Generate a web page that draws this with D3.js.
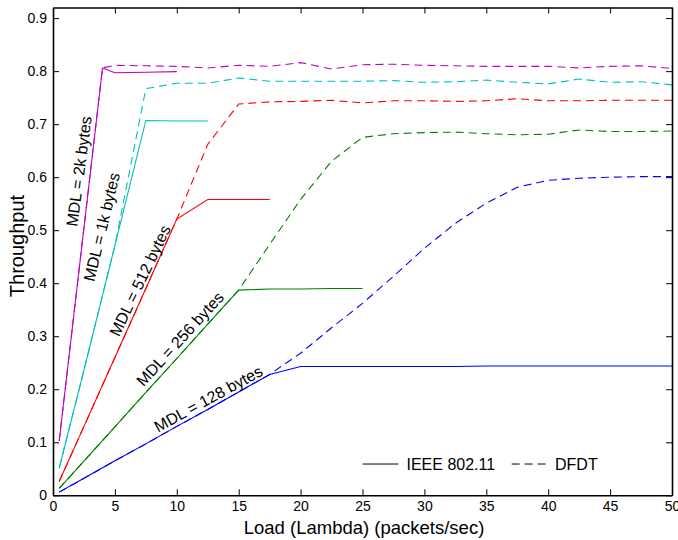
<!DOCTYPE html>
<html>
<head>
<meta charset="utf-8">
<script src="https://cdn.jsdelivr.net/npm/d3@7"></script>
<style>
  html, body { margin: 0; padding: 0; background: #fff; }
  svg { display: block; font-family: "Liberation Sans", Arial, Helvetica, sans-serif; }
</style>
</head>
<body>
<svg id="chart" width="678" height="540"></svg>
<script>
// ---------- data ----------
const loadX = [0.5, 2.5, 5, 7.5, 10, 12.5, 15, 17.5, 20, 22.5, 25, 27.5, 30, 32.5, 35, 37.5, 40, 42.5, 45, 47.5, 50];
const load2k = [0.5, 4, 5, 7.5, 10, 12.5, 15, 17.5, 20, 22.5, 25, 27.5, 30, 32.5, 35, 37.5, 40, 42.5, 45, 47.5, 50];

const ieee128 = [0.006, 0.032, 0.065, 0.097, 0.13, 0.162, 0.195, 0.228, 0.243, 0.243, 0.243, 0.243, 0.243, 0.243, 0.244, 0.244, 0.244, 0.244, 0.244, 0.244, 0.244];
const dfdt128 = [0.006, 0.032, 0.065, 0.097, 0.13, 0.162, 0.195, 0.228, 0.268, 0.316, 0.362, 0.413, 0.466, 0.513, 0.551, 0.581, 0.594, 0.598, 0.600, 0.601, 0.601];

const ieee256 = [0.013, 0.0645, 0.129, 0.194, 0.258, 0.323, 0.387, 0.389, 0.389, 0.39, 0.39];
const dfdt256 = [0.013, 0.0645, 0.129, 0.194, 0.258, 0.323, 0.387, 0.473, 0.558, 0.63, 0.675, 0.682, 0.684, 0.685, 0.682, 0.68, 0.681, 0.689, 0.686, 0.686, 0.687];

const ieee512 = [0.026, 0.13, 0.26, 0.39, 0.521, 0.558, 0.558, 0.558];
const dfdt512 = [0.026, 0.13, 0.26, 0.39, 0.521, 0.662, 0.738, 0.742, 0.743, 0.745, 0.740, 0.744, 0.744, 0.743, 0.744, 0.748, 0.744, 0.744, 0.745, 0.745, 0.745];

const ieee1k = [0.051, 0.236, 0.471, 0.707, 0.706, 0.706];
const dfdt1k = [0.051, 0.236, 0.471, 0.767, 0.777, 0.777, 0.787, 0.781, 0.781, 0.781, 0.781, 0.782, 0.779, 0.780, 0.783, 0.779, 0.776, 0.785, 0.779, 0.780, 0.774];

const ieee2k = [0.1025, 0.806, 0.797, 0.798, 0.799];
const dfdt2k = [0.1025, 0.806, 0.811, 0.810, 0.809, 0.806, 0.811, 0.809, 0.816, 0.804, 0.812, 0.813, 0.811, 0.810, 0.809, 0.809, 0.809, 0.806, 0.809, 0.810, 0.805];

const xTicks = [0, 5, 10, 15, 20, 25, 30, 35, 40, 45, 50];
const yTicks = [0, 0.1, 0.2, 0.3, 0.4, 0.5, 0.6, 0.7, 0.8, 0.9];

const labelText = ["MDL = 2k bytes", "MDL = 1k bytes", "MDL = 512 bytes", "MDL = 256 bytes", "MDL = 128 bytes"];
const labelX = [2.1, 3.93, 7.03, 10.26, 12.54];
const labelY = [0.611, 0.506, 0.405, 0.295, 0.182];
const labelAngle = [-82.5, -76.5, -64.5, -47.7, -28.7];

const legendNames = ["IEEE 802.11", "DFDT"];

// ---------- layout ----------
const W = 678, H = 540;
const margin = { left: 53, right: 6, top: 7.5, bottom: 44.7 };
const svg = d3.select("#chart");

const x = d3.scaleLinear().domain([0, 50]).range([margin.left, W - margin.right]);
const y = d3.scaleLinear().domain([0, 0.92]).range([H - margin.bottom, margin.top]);

const colors = { c128: "#0000ff", c256: "#008000", c512: "#ff0000", c1k: "#00bfbf", c2k: "#bf00bf" };

const series = [
  { xs: loadX, ys: ieee128, color: colors.c128, dashed: false },
  { xs: loadX, ys: dfdt128, color: colors.c128, dashed: true },
  { xs: loadX, ys: ieee256, color: colors.c256, dashed: false },
  { xs: loadX, ys: dfdt256, color: colors.c256, dashed: true },
  { xs: loadX, ys: ieee512, color: colors.c512, dashed: false },
  { xs: loadX, ys: dfdt512, color: colors.c512, dashed: true },
  { xs: loadX, ys: ieee1k, color: colors.c1k, dashed: false },
  { xs: loadX, ys: dfdt1k, color: colors.c1k, dashed: true },
  { xs: load2k, ys: ieee2k, color: colors.c2k, dashed: false },
  { xs: load2k, ys: dfdt2k, color: colors.c2k, dashed: true }
];

svg.append("defs").append("clipPath").attr("id", "plotclip")
  .append("rect")
  .attr("x", margin.left).attr("y", margin.top)
  .attr("width", W - margin.left - margin.right)
  .attr("height", H - margin.top - margin.bottom);

const line = d3.line().x(d => x(d[0])).y(d => y(d[1]));

const plot = svg.append("g").attr("clip-path", "url(#plotclip)");
series.filter(s => s.dashed).concat(series.filter(s => !s.dashed)).forEach(s => {
  const pts = s.ys.map((v, i) => [s.xs[i], v]);
  plot.append("path")
    .attr("d", line(pts))
    .attr("fill", "none")
    .attr("stroke", s.color)
    .attr("stroke-width", 1.1)
    .attr("stroke-dasharray", s.dashed ? "8,5" : null);
});

// ---------- axes ----------
const tickLen = 6;
const fmtY = d => d === 0 ? "0" : d3.format(".1f")(d);

const xAxisB = d3.axisBottom(x).tickValues(xTicks).tickSizeInner(-tickLen).tickSizeOuter(0).tickPadding(6).tickFormat(d3.format("d"));
const xAxisT = d3.axisTop(x).tickValues(xTicks).tickSizeInner(-tickLen).tickSizeOuter(0).tickFormat("");
const yAxisL = d3.axisLeft(y).tickValues(yTicks).tickSizeInner(-tickLen).tickSizeOuter(0).tickPadding(6).tickFormat(fmtY);
const yAxisR = d3.axisRight(y).tickValues(yTicks).tickSizeInner(-tickLen).tickSizeOuter(0).tickFormat("");

function styleAxis(g) {
  g.select(".domain").attr("stroke", "#000").attr("stroke-width", 1.6);
  g.selectAll(".tick line").attr("stroke", "#000").attr("stroke-width", 1);
  g.selectAll(".tick text").attr("fill", "#000").style("font-size", "14px")
    .style("font-family", "'Liberation Sans', Arial, Helvetica, sans-serif");
}

svg.append("g").attr("transform", `translate(0,${H - margin.bottom})`).call(xAxisB).call(styleAxis);
svg.append("g").attr("transform", `translate(0,${margin.top})`).call(xAxisT).call(styleAxis);
svg.append("g").attr("transform", `translate(${margin.left},0)`).call(yAxisL).call(styleAxis);
svg.append("g").attr("transform", `translate(${W - margin.right},0)`).call(yAxisR).call(styleAxis);

// axis labels
svg.append("text")
  .attr("x", 364)
  .attr("y", H - 6)
  .attr("text-anchor", "middle")
  .style("font-size", "18.5px")
  .text("Load (Lambda) (packets/sec)");

svg.append("text")
  .attr("transform", `translate(24,246) rotate(-90)`)
  .attr("text-anchor", "middle")
  .style("font-size", "20px")
  .text("Throughput");

// ---------- annotations ----------
labelText.forEach((t, i) => {
  svg.append("text")
    .attr("transform", `translate(${x(labelX[i])},${y(labelY[i])}) rotate(${labelAngle[i]})`)
    .attr("text-anchor", "middle")
    .attr("dy", "0.35em")
    .style("font-size", "16px")
    .text(t);
});

// ---------- legend ----------
const legY = y(0.059);
const leg = svg.append("g");
leg.append("line").attr("x1", 362.7).attr("x2", 398.3).attr("y1", legY).attr("y2", legY)
  .attr("stroke", "#000").attr("stroke-width", 1);
leg.append("text").attr("x", 406.5).attr("y", legY).attr("dy", "0.35em").style("font-size", "16px").text(legendNames[0]);
leg.append("line").attr("x1", 511.7).attr("x2", 549).attr("y1", legY).attr("y2", legY)
  .attr("stroke", "#000").attr("stroke-width", 1).attr("stroke-dasharray", "8,5");
leg.append("text").attr("x", 555).attr("y", legY).attr("dy", "0.35em").style("font-size", "16px").text(legendNames[1]);
</script>
</body>
</html>
